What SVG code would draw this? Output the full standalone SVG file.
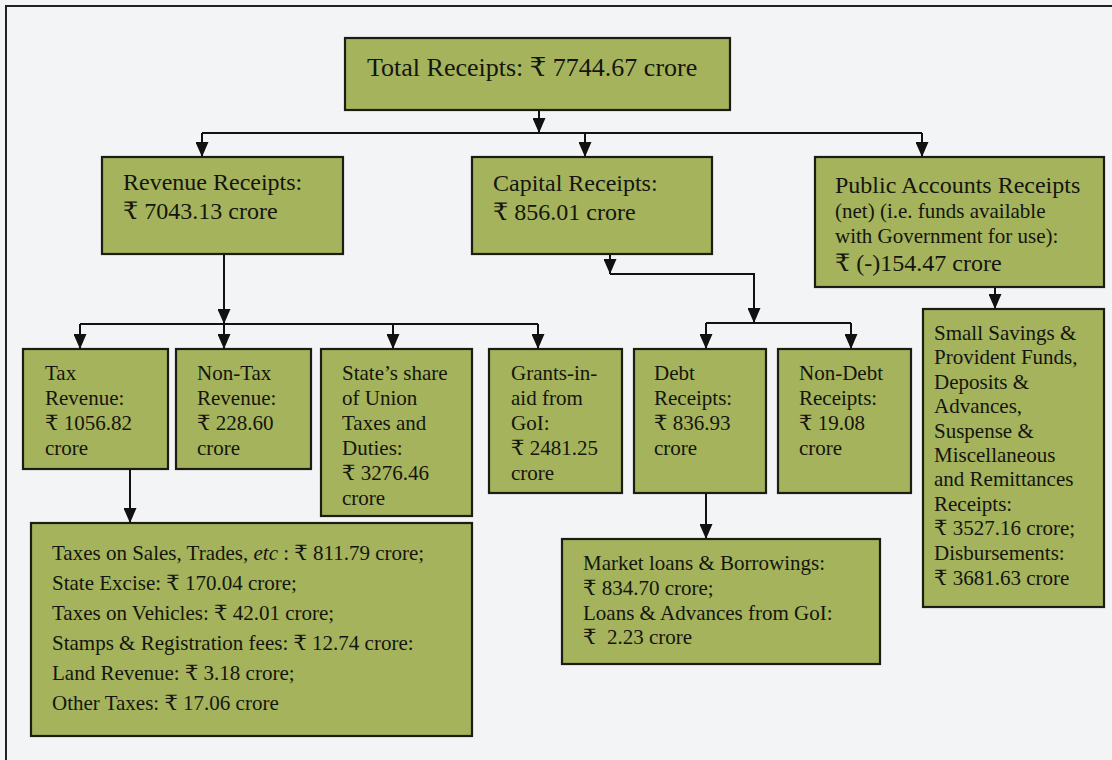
<svg xmlns="http://www.w3.org/2000/svg" width="1112" height="760" viewBox="0 0 1112 760">
<style>
.box{fill:#a4b35c;stroke:#1c1c14;stroke-width:2.2}
text{font-family:"Liberation Serif","Times New Roman",serif;fill:#15150f}
.r{font-family:"DejaVu Serif","Noto Sans",serif}
.f26{font-size:26px}
.f24{font-size:24px}
.f21{font-size:21px}
.con{fill:none;stroke:#111;stroke-width:2}
</style>
<defs>
<marker id="ah" markerUnits="userSpaceOnUse" markerWidth="15" markerHeight="13" refX="15" refY="6.5" orient="auto" viewBox="0 0 15 13">
<path d="M0,0 L15,6.5 L0,13 z" fill="#111"/>
</marker>
</defs>
<rect x="0" y="0" width="1112" height="760" fill="#f3f4f6"/>
<path d="M6,760 V6 H1112" fill="none" stroke="#222" stroke-width="2"/>

<g id="connectors">
<path class="con" d="M539,110 V133" marker-end="url(#ah)"/>
<path class="con" d="M202,133 H922"/>
<path class="con" d="M202,133 V157" marker-end="url(#ah)"/>
<path class="con" d="M585,133 V157" marker-end="url(#ah)"/>
<path class="con" d="M922,133 V157" marker-end="url(#ah)"/>
<path class="con" d="M224,254 V324" marker-end="url(#ah)"/>
<path class="con" d="M80,324 H538"/>
<path class="con" d="M80,324 V349" marker-end="url(#ah)"/>
<path class="con" d="M224,324 V349" marker-end="url(#ah)"/>
<path class="con" d="M393,324 V349" marker-end="url(#ah)"/>
<path class="con" d="M538,324 V349" marker-end="url(#ah)"/>
<path class="con" d="M610,254 V274" marker-end="url(#ah)"/>
<path class="con" d="M610,274 H754 V323" marker-end="url(#ah)"/>
<path class="con" d="M706,323 H851"/>
<path class="con" d="M706,323 V349" marker-end="url(#ah)"/>
<path class="con" d="M851,323 V349" marker-end="url(#ah)"/>
<path class="con" d="M995,287 V309" marker-end="url(#ah)"/>
<path class="con" d="M130,469 V523" marker-end="url(#ah)"/>
<path class="con" d="M706,493 V539" marker-end="url(#ah)"/>
</g>

<g id="total">
<rect class="box" x="345" y="38" width="385" height="72"/>
<text class="f26" x="367" y="76">Total Receipts: <tspan class="r">₹</tspan> 7744.67 crore</text>
</g>

<g id="revenue">
<rect class="box" x="102" y="157" width="241" height="97"/>
<text class="f24"><tspan x="123" y="190">Revenue Receipts:</tspan><tspan x="123" y="219"><tspan class="r">₹</tspan> 7043.13 crore</tspan></text>
</g>

<g id="capital">
<rect class="box" x="472" y="157" width="240" height="97"/>
<text class="f24"><tspan x="493" y="191">Capital Receipts:</tspan><tspan x="493" y="220"><tspan class="r">₹</tspan> 856.01 crore</tspan></text>
</g>

<g id="public">
<rect class="box" x="815" y="157" width="289" height="130"/>
<text><tspan class="f24" x="835" y="193">Public Accounts Receipts</tspan><tspan class="f21" x="835" y="218">(net) (i.e. funds available</tspan><tspan class="f21" x="835" y="243">with Government for use):</tspan><tspan class="f24" x="835" y="271"><tspan class="r">₹</tspan> (-)154.47 crore</tspan></text>
</g>

<g id="tax">
<rect class="box" x="23" y="349" width="145" height="120"/>
<text class="f21"><tspan x="45" y="380">Tax</tspan><tspan x="45" y="405">Revenue:</tspan><tspan x="45" y="430"><tspan class="r">₹</tspan> 1056.82</tspan><tspan x="45" y="455">crore</tspan></text>
</g>

<g id="nontax">
<rect class="box" x="176" y="349" width="135" height="120"/>
<text class="f21"><tspan x="197" y="380">Non-Tax</tspan><tspan x="197" y="405">Revenue:</tspan><tspan x="197" y="430"><tspan class="r">₹</tspan> 228.60</tspan><tspan x="197" y="455">crore</tspan></text>
</g>

<g id="stateshare">
<rect class="box" x="321" y="349" width="151" height="167"/>
<text class="f21"><tspan x="342" y="380">State’s share</tspan><tspan x="342" y="405">of Union</tspan><tspan x="342" y="430">Taxes and</tspan><tspan x="342" y="455">Duties:</tspan><tspan x="342" y="480"><tspan class="r">₹</tspan> 3276.46</tspan><tspan x="342" y="505">crore</tspan></text>
</g>

<g id="grants">
<rect class="box" x="489" y="349" width="133" height="144"/>
<text class="f21"><tspan x="511" y="380">Grants-in-</tspan><tspan x="511" y="405">aid from</tspan><tspan x="511" y="430">GoI:</tspan><tspan x="511" y="455"><tspan class="r">₹</tspan> 2481.25</tspan><tspan x="511" y="480">crore</tspan></text>
</g>

<g id="debt">
<rect class="box" x="634" y="349" width="132" height="144"/>
<text class="f21"><tspan x="654" y="380">Debt</tspan><tspan x="654" y="405">Receipts:</tspan><tspan x="654" y="430"><tspan class="r">₹</tspan> 836.93</tspan><tspan x="654" y="455">crore</tspan></text>
</g>

<g id="nondebt">
<rect class="box" x="778" y="349" width="133" height="144"/>
<text class="f21"><tspan x="799" y="380">Non-Debt</tspan><tspan x="799" y="405">Receipts:</tspan><tspan x="799" y="430"><tspan class="r">₹</tspan> 19.08</tspan><tspan x="799" y="455">crore</tspan></text>
</g>

<g id="smallsavings">
<rect class="box" x="923" y="309" width="181" height="298"/>
<text class="f21"><tspan x="934" y="340">Small Savings &amp;</tspan><tspan x="934" y="364">Provident Funds,</tspan><tspan x="934" y="389">Deposits &amp;</tspan><tspan x="934" y="413">Advances,</tspan><tspan x="934" y="438">Suspense &amp;</tspan><tspan x="934" y="462">Miscellaneous</tspan><tspan x="934" y="486">and Remittances</tspan><tspan x="934" y="511">Receipts:</tspan><tspan x="934" y="535"><tspan class="r">₹</tspan> 3527.16 crore;</tspan><tspan x="934" y="560">Disbursements:</tspan><tspan x="934" y="585"><tspan class="r">₹</tspan> 3681.63 crore</tspan></text>
</g>

<g id="taxdetail">
<rect class="box" x="31" y="523" width="441" height="213"/>
<text class="f21"><tspan x="52" y="560">Taxes on Sales, Trades, <tspan font-style="italic">etc</tspan> : <tspan class="r">₹</tspan> 811.79 crore;</tspan><tspan x="52" y="590">State Excise: <tspan class="r">₹</tspan> 170.04 crore;</tspan><tspan x="52" y="620">Taxes on Vehicles: <tspan class="r">₹</tspan> 42.01 crore;</tspan><tspan x="52" y="650">Stamps &amp; Registration fees: <tspan class="r">₹</tspan> 12.74 crore:</tspan><tspan x="52" y="680">Land Revenue: <tspan class="r">₹</tspan> 3.18 crore;</tspan><tspan x="52" y="710">Other Taxes: <tspan class="r">₹</tspan> 17.06 crore</tspan></text>
</g>

<g id="debtdetail">
<rect class="box" x="562" y="539" width="318" height="125"/>
<text class="f21"><tspan x="583" y="570">Market loans &amp; Borrowings:</tspan><tspan x="583" y="595"><tspan class="r">₹</tspan> 834.70 crore;</tspan><tspan x="583" y="620">Loans &amp; Advances from GoI:</tspan><tspan x="583" y="644"><tspan class="r">₹</tspan>&#160; 2.23 crore</tspan></text>
</g>
</svg>
